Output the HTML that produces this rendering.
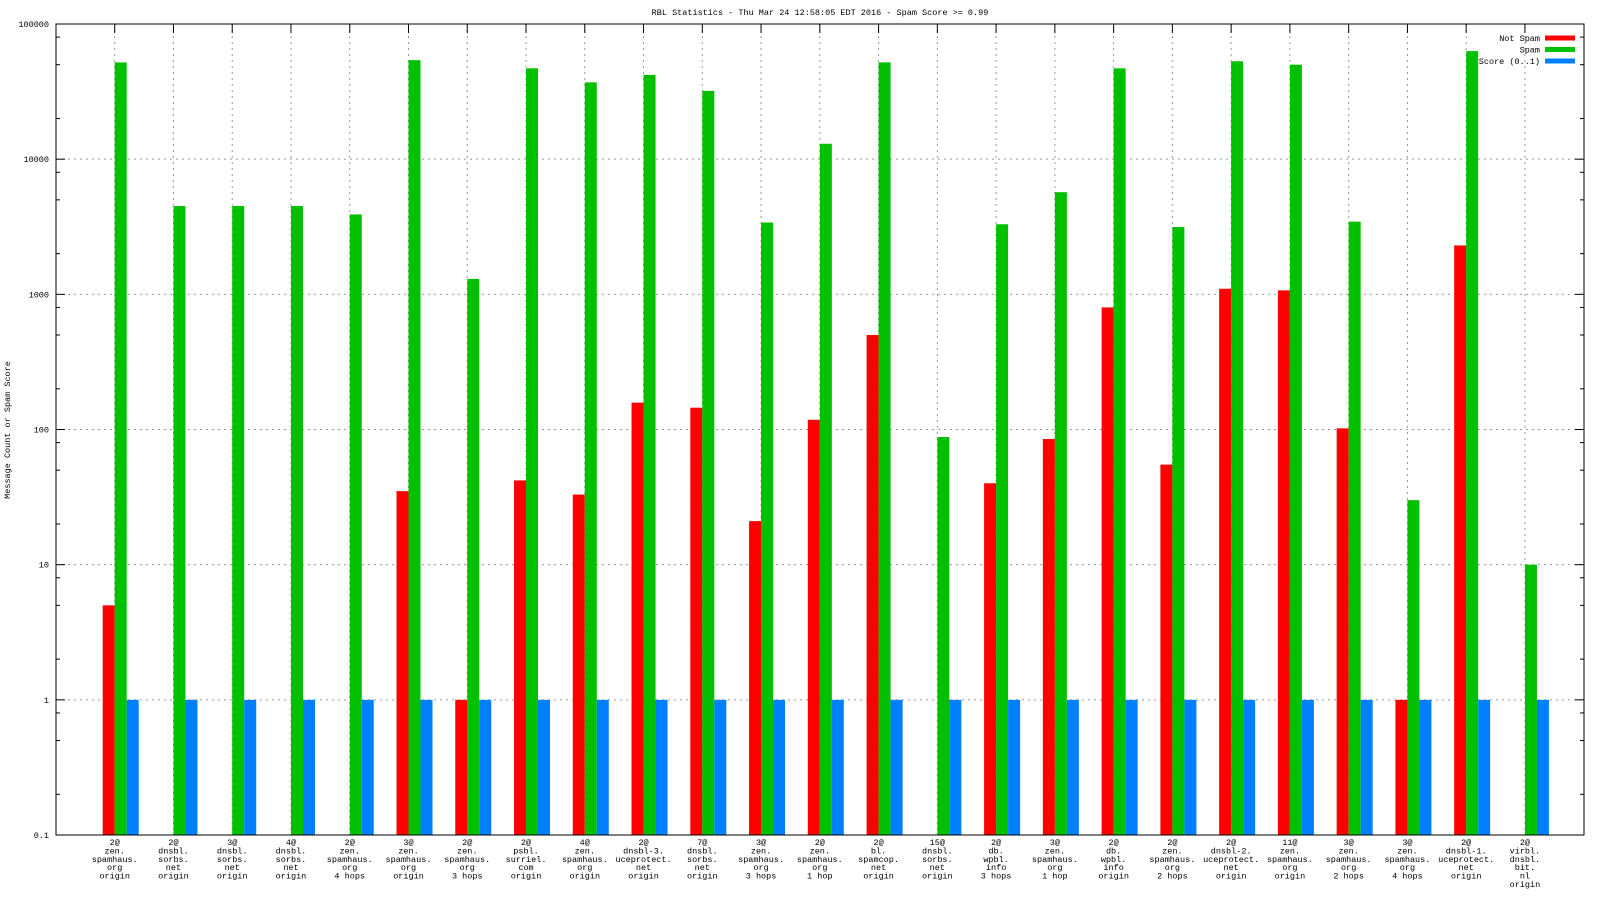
<!DOCTYPE html>
<html><head><meta charset="utf-8"><style>
html,body{margin:0;padding:0;background:#fff;}
svg{display:block;}
text{font-family:"Liberation Mono",monospace;font-size:8.5px;fill:#000;}
</style></head><body>
<svg id="chart" width="1600" height="900" viewBox="0 0 1600 900" xmlns="http://www.w3.org/2000/svg"></svg>
<script>
const categories = [
 ["2@","zen.","spamhaus.","org","origin"],
 ["2@","dnsbl.","sorbs.","net","origin"],
 ["3@","dnsbl.","sorbs.","net","origin"],
 ["4@","dnsbl.","sorbs.","net","origin"],
 ["2@","zen.","spamhaus.","org","4 hops"],
 ["3@","zen.","spamhaus.","org","origin"],
 ["2@","zen.","spamhaus.","org","3 hops"],
 ["2@","psbl.","surriel.","com","origin"],
 ["4@","zen.","spamhaus.","org","origin"],
 ["2@","dnsbl-3.","uceprotect.","net","origin"],
 ["7@","dnsbl.","sorbs.","net","origin"],
 ["3@","zen.","spamhaus.","org","3 hops"],
 ["2@","zen.","spamhaus.","org","1 hop"],
 ["2@","bl.","spamcop.","net","origin"],
 ["15@","dnsbl.","sorbs.","net","origin"],
 ["2@","db.","wpbl.","info","3 hops"],
 ["3@","zen.","spamhaus.","org","1 hop"],
 ["2@","db.","wpbl.","info","origin"],
 ["2@","zen.","spamhaus.","org","2 hops"],
 ["2@","dnsbl-2.","uceprotect.","net","origin"],
 ["11@","zen.","spamhaus.","org","origin"],
 ["3@","zen.","spamhaus.","org","2 hops"],
 ["3@","zen.","spamhaus.","org","4 hops"],
 ["2@","dnsbl-1.","uceprotect.","net","origin"],
 ["2@","virbl.","dnsbl.","bit.","nl","origin"]
];
const notSpam = [5,0,0,0,0,35,1,42,33,158,145,21,118,500,0,40,85,800,55,1100,1070,102,1,2300,0];
const spam = [52000,4500,4500,4500,3900,54000,1300,47000,37000,42000,32000,3400,13000,52000,88,3300,5700,47000,3150,53000,50000,3450,30,63000,10];
const score = [1,1,1,1,1,1,1,1,1,1,1,1,1,1,1,1,1,1,1,1,1,1,1,1,1];
const yTicks = ["0.1","1","10","100","1000","10000","100000"];

const svg = document.getElementById('chart');
const NS = "http://www.w3.org/2000/svg";
const L=56, R=1584, T=24, B=835;
const minE=-1, maxE=5;
function y(v){ return B - (Math.log10(v)-minE)/(maxE-minE)*(B-T); }
function xc(i){ return 114.7 + i*58.76; }
function mk(tag, attrs){ const e=document.createElementNS(NS,tag); for(const k in attrs) e.setAttribute(k,attrs[k]); svg.appendChild(e); return e; }

// grid
yTicks.forEach((t,i)=>{
  const v=parseFloat(t), yy=y(v);
  if(i>0 && i<yTicks.length-1){
    const g=mk('line',{x1:L,x2:R,y1:yy,y2:yy,stroke:'#999','stroke-dasharray':'2,4','stroke-width':1});
    
    
  }
  const tx=mk('text',{x:L-7,y:yy+3,'text-anchor':'end'});
  tx.textContent=t;
  
  
  mk('line',{x1:L,x2:L+9,y1:yy,y2:yy,stroke:'#000'});
  mk('line',{x1:R,x2:R-9,y1:yy,y2:yy,stroke:'#000'});
  if(i<yTicks.length-1){
    [2,5,8].forEach(m=>{ const my=y(v*m);
      mk('line',{x1:L,x2:L+4,y1:my,y2:my,stroke:'#000'});
      mk('line',{x1:R,x2:R-4,y1:my,y2:my,stroke:'#000'});
    });
  }
});
categories.forEach((c,i)=>{
  const x=xc(i);
  const g=mk('line',{x1:x,x2:x,y1:T,y2:B,stroke:'#999','stroke-dasharray':'2,4'});
  
  
  mk('line',{x1:x,x2:x,y1:T,y2:T+9,stroke:'#000'});
});
// bars
const series=[[notSpam,'#ff0000',-12,'bar-not-spam'],[spam,'#00c000',0,'bar-spam'],[score,'#0080ff',12,'bar-score']];
series.forEach(([arr,col,off,nm])=>{
  arr.forEach((v,i)=>{
    if(!(v>0.1)) return;
    const yy=y(v);
    const r=mk('rect',{x:xc(i)+off,y:yy,width:12,height:B-yy,fill:col});
    
    
  });
});
// x labels
categories.forEach((c,i)=>{
  c.forEach((line,j)=>{
    const t=mk('text',{x:xc(i),y:845+j*8.4,'text-anchor':'middle'});
    t.textContent=line;
    
    
  });
});
// frame
const f=mk('rect',{x:L,y:T,width:R-L,height:B-T,fill:'none',stroke:'#000','stroke-width':1});


// title
const ti=mk('text',{x:820,y:15,'text-anchor':'middle'});
ti.textContent='RBL Statistics - Thu Mar 24 12:58:05 EDT 2016 - Spam Score >= 0.99';


const yl=mk('text',{x:0,y:0,'text-anchor':'middle',transform:'translate(10,430) rotate(-90)'});
yl.textContent='Message Count or Spam Score';


// legend
[['Not Spam','#ff0000'],['Spam','#00c000'],['Score (0..1)','#0080ff']].forEach(([n,c],i)=>{
  const yy=38+i*11.5;
  const t=mk('text',{x:1540,y:yy+3,'text-anchor':'end'});
  t.textContent=n;
  
  
  const r=mk('rect',{x:1545,y:yy-2.5,width:30,height:5,fill:c});
  
  
});
</script>
</body></html>
